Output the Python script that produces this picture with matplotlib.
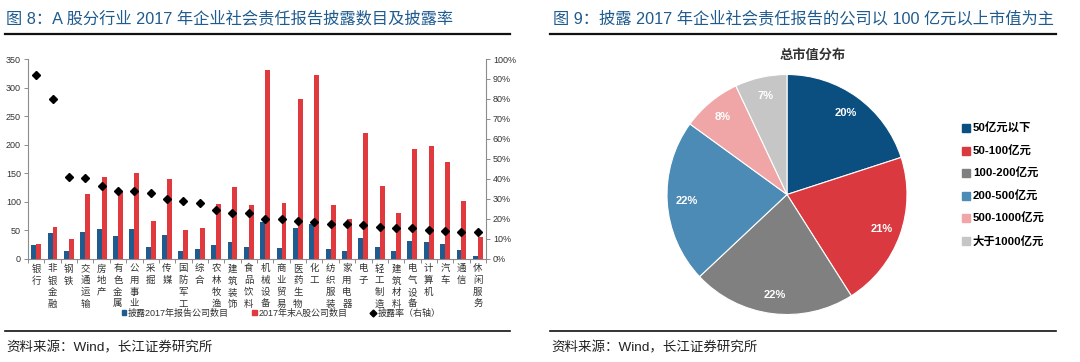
import matplotlib
matplotlib.use("Agg")
import matplotlib.pyplot as plt
from matplotlib.patches import Patch
from matplotlib.lines import Line2D
import numpy as np

plt.rcParams['font.family'] = ['Liberation Sans', 'Noto Sans CJK SC', 'DejaVu Sans']

# ---------------- data ----------------
industries = ['银行', '非银金融', '钢铁', '交通运输', '房地产', '有色金属', '公用事业', '采掘',
              '传媒', '国防军工', '综合', '农林牧渔', '建筑装饰', '食品饮料', '机械设备',
              '商业贸易', '医药生物', '化工', '纺织服装', '家用电器', '电子', '轻工制造',
              '建筑材料', '电气设备', '计算机', '汽车', '通信', '休闲服务']
disclosed = [23, 45, 14, 46, 52, 40, 51, 21, 42, 14, 16, 23, 29, 21, 64,
             19, 54, 60, 16, 13, 36, 20, 13, 30, 29, 25, 15, 5]
listed = [25, 55, 34, 113, 143, 118, 150, 65, 139, 50, 54, 95, 126, 94, 331,
          98, 280, 322, 93, 69, 220, 128, 79, 192, 198, 170, 101, 37]
rate = [92, 80, 41, 40.3, 36.5, 33.7, 33.7, 32.8, 29.6, 28.8, 28, 24.5, 22.6, 22.6, 19.6,
        19.6, 18.9, 18.1, 17.4, 17.4, 16.6, 15.7, 15.4, 15.1, 14.2, 13.9, 13.5, 13.2]
left_ticks = [0, 50, 100, 150, 200, 250, 300, 350]
right_ticks = [0, 10, 20, 30, 40, 50, 60, 70, 80, 90, 100]
bar_legend = ['披露2017年报告公司数目', '2017年末A股公司数目', '披露率（右轴）']

pie_labels = ['50亿元以下', '50-100亿元', '100-200亿元', '200-500亿元', '500-1000亿元', '大于1000亿元']
pie_values = [20, 21, 22, 22, 8, 7]
pie_colors = ['#0B4F80', '#DA3A3F', '#808080', '#4C8BB5', '#F0A6A7', '#C6C6C6']

title_left = '图 8：A 股分行业 2017 年企业社会责任报告披露数目及披露率'
title_right = '图 9：披露 2017 年企业社会责任报告的公司以 100 亿元以上市值为主'
source = '资料来源：Wind，长江证券研究所'

W, H = 1080, 362
fig = plt.figure(figsize=(W / 100, H / 100), dpi=100)
fig.patch.set_facecolor('white')

def fx(px):
    return px / W

def fy(py):
    return 1 - py / H

head_color = '#1F5B8E'
fig.text(fx(6), fy(18), title_left, fontsize=11.7, color=head_color, va='center', ha='left')
fig.text(fx(553), fy(18), title_right, fontsize=11.7, color=head_color, va='center', ha='left')
fig.add_artist(Line2D([fx(5), fx(510)], [fy(33.5), fy(33.5)], color='#111111', lw=1.6))
fig.add_artist(Line2D([fx(550), fx(1056)], [fy(33.5), fy(33.5)], color='#111111', lw=1.6))
fig.add_artist(Line2D([fx(5), fx(510)], [fy(330.5), fy(330.5)], color='#111111', lw=1.2))
fig.add_artist(Line2D([fx(550), fx(1056)], [fy(330.5), fy(330.5)], color='#111111', lw=1.2))
fig.text(fx(6), fy(348), source, fontsize=9.7, color='#222222', va='center', ha='left')
fig.text(fx(551), fy(348), source, fontsize=9.7, color='#222222', va='center', ha='left')

# ---------------- bar chart ----------------
axL = fig.add_axes([fx(28), fy(258.5), fx(486) - fx(28), (258.5 - 59) / H])
x = np.arange(len(industries))
bw = 0.3
blue = '#1F5B8E'
red = '#E0393E'
axL.bar(x - bw / 2, disclosed, width=bw, color=blue, zorder=2)
axL.bar(x + bw / 2, listed, width=bw, color=red, zorder=2)
axL.set_ylim(0, 350)
axL.set_xlim(-0.5, len(industries) - 0.5)
axL.set_yticks(left_ticks)
axL.set_yticklabels([str(v) for v in left_ticks])
axR = axL.twinx()
axR.plot(x, rate, linestyle='none', marker='D', markersize=4.5, color='black', zorder=3)
axR.set_ylim(0, 100)
axR.set_yticks(right_ticks)
axR.set_yticklabels([f'{v}%' for v in right_ticks])

for a in (axL, axR):
    a.spines['top'].set_visible(False)
    for s in ('left', 'right', 'bottom'):
        a.spines[s].set_color('#8C8C8C')
        a.spines[s].set_linewidth(0.8)
    a.tick_params(axis='y', direction='out', length=3, width=0.7, color='#8C8C8C',
                  labelsize=6.5, labelcolor='#333333', pad=2)
axL.spines['right'].set_visible(False)
axR.spines['left'].set_visible(False)
axR.spines['bottom'].set_visible(False)

axL.set_xticks(x)
axL.set_xticklabels(['\n'.join(n) for n in industries], fontsize=6.8, color='#333333',
                    linespacing=1.4, va='top')
axL.tick_params(axis='x', length=0, pad=4)
axL.set_xticks(np.arange(-0.5, len(industries), 1), minor=True)
axL.tick_params(axis='x', which='minor', direction='out', length=3, width=0.7, color='#8C8C8C')

handles = [Patch(color=blue), Patch(color=red),
           Line2D([], [], linestyle='none', marker='D', markersize=3.5, color='black')]
fig.legend(handles, bar_legend, loc='center', bbox_to_anchor=(fx(281), fy(313)), ncol=3,
           frameon=False, fontsize=6.5, handlelength=0.5, handleheight=0.5,
           handletextpad=0.2, columnspacing=2.6, labelcolor='#333333')

# ---------------- pie chart ----------------
cx, cy, r = 787, 194.5, 120
axP = fig.add_axes([fx(cx - r), fy(cy + r), 2 * r / W, 2 * r / H])
wedges, texts, autotexts = axP.pie(pie_values, colors=pie_colors, startangle=90, counterclock=False,
                                   autopct='%d%%', pctdistance=0.84, radius=1.0,
                                   wedgeprops=dict(edgecolor='white', linewidth=0.8),
                                   textprops=dict(color='white', fontsize=8, fontweight='bold'))
axP.set_xlim(-1, 1)
axP.set_ylim(-1, 1)
axP.set_aspect('auto')
axP.axis('off')
fig.text(fx(813), fy(55), '总市值分布', fontsize=9.5, fontweight='bold', color='#333333',
         ha='center', va='center')

ph = [Patch(color=c) for c in pie_colors]
fig.legend(ph, pie_labels, loc='upper left', bbox_to_anchor=(fx(962), fy(123)),
           frameon=False, handlelength=0.7, handleheight=0.7,
           handletextpad=0.25, labelspacing=1.0, borderaxespad=0, borderpad=0,
           prop=dict(weight='bold', size=8.2))

fig.savefig('out.png', dpi=100, facecolor='white')
